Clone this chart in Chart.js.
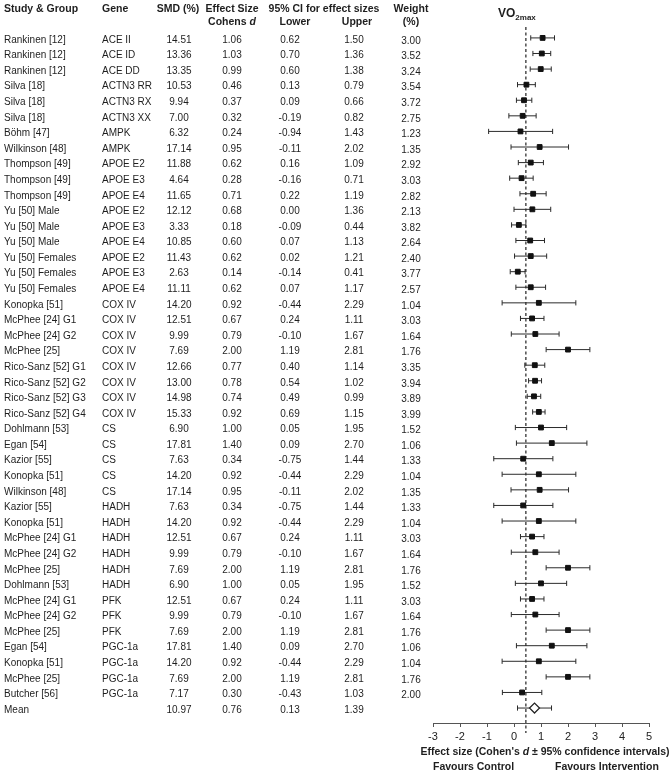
<!DOCTYPE html>
<html>
<head>
<meta charset="utf-8">
<script src="https://cdn.jsdelivr.net/npm/chart.js@4.4.0/dist/chart.umd.min.js"></script>
<style>
  body { margin: 0; background: #fff; }
  #wrap { width: 670px; height: 773px; }
</style>
</head>
<body>
<div id="wrap"><canvas id="myChart" width="670" height="773"></canvas></div>
<script>
// table rows, top to bottom
const studies = [
  'Rankinen [12]', 'Rankinen [12]', 'Rankinen [12]', 'Silva [18]', 'Silva [18]', 'Silva [18]',
  'Böhm [47]', 'Wilkinson [48]', 'Thompson [49]', 'Thompson [49]', 'Thompson [49]',
  'Yu [50] Male', 'Yu [50] Male', 'Yu [50] Male', 'Yu [50] Females', 'Yu [50] Females', 'Yu [50] Females',
  'Konopka [51]', 'McPhee [24] G1', 'McPhee [24] G2', 'McPhee [25]',
  'Rico-Sanz [52] G1', 'Rico-Sanz [52] G2', 'Rico-Sanz [52] G3', 'Rico-Sanz [52] G4',
  'Dohlmann [53]', 'Egan [54]', 'Kazior [55]', 'Konopka [51]', 'Wilkinson [48]',
  'Kazior [55]', 'Konopka [51]', 'McPhee [24] G1', 'McPhee [24] G2', 'McPhee [25]', 'Dohlmann [53]',
  'McPhee [24] G1', 'McPhee [24] G2', 'McPhee [25]',
  'Egan [54]', 'Konopka [51]', 'McPhee [25]', 'Butcher [56]'
];
const genes = [
  'ACE II', 'ACE ID', 'ACE DD', 'ACTN3 RR', 'ACTN3 RX', 'ACTN3 XX',
  'AMPK', 'AMPK', 'APOE E2', 'APOE E3', 'APOE E4',
  'APOE E2', 'APOE E3', 'APOE E4', 'APOE E2', 'APOE E3', 'APOE E4',
  'COX IV', 'COX IV', 'COX IV', 'COX IV', 'COX IV', 'COX IV', 'COX IV', 'COX IV',
  'CS', 'CS', 'CS', 'CS', 'CS',
  'HADH', 'HADH', 'HADH', 'HADH', 'HADH', 'HADH',
  'PFK', 'PFK', 'PFK',
  'PGC-1a', 'PGC-1a', 'PGC-1a', 'PGC-1a'
];
const smd = [
  14.51, 13.36, 13.35, 10.53, 9.94, 7.00, 6.32, 17.14, 11.88, 4.64, 11.65,
  12.12, 3.33, 10.85, 11.43, 2.63, 11.11, 14.20, 12.51, 9.99, 7.69,
  12.66, 13.00, 14.98, 15.33, 6.90, 17.81, 7.63, 14.20, 17.14,
  7.63, 14.20, 12.51, 9.99, 7.69, 6.90, 12.51, 9.99, 7.69,
  17.81, 14.20, 7.69, 7.17
];
const effectSize = [
  1.06, 1.03, 0.99, 0.46, 0.37, 0.32, 0.24, 0.95, 0.62, 0.28, 0.71,
  0.68, 0.18, 0.60, 0.62, 0.14, 0.62, 0.92, 0.67, 0.79, 2.00,
  0.77, 0.78, 0.74, 0.92, 1.00, 1.40, 0.34, 0.92, 0.95,
  0.34, 0.92, 0.67, 0.79, 2.00, 1.00, 0.67, 0.79, 2.00,
  1.40, 0.92, 2.00, 0.30
];
const lowerCI = [
  0.62, 0.70, 0.60, 0.13, 0.09, -0.19, -0.94, -0.11, 0.16, -0.16, 0.22,
  0.00, -0.09, 0.07, 0.02, -0.14, 0.07, -0.44, 0.24, -0.10, 1.19,
  0.40, 0.54, 0.49, 0.69, 0.05, 0.09, -0.75, -0.44, -0.11,
  -0.75, -0.44, 0.24, -0.10, 1.19, 0.05, 0.24, -0.10, 1.19,
  0.09, -0.44, 1.19, -0.43
];
const upperCI = [
  1.50, 1.36, 1.38, 0.79, 0.66, 0.82, 1.43, 2.02, 1.09, 0.71, 1.19,
  1.36, 0.44, 1.13, 1.21, 0.41, 1.17, 2.29, 1.11, 1.67, 2.81,
  1.14, 1.02, 0.99, 1.15, 1.95, 2.70, 1.44, 2.29, 2.02,
  1.44, 2.29, 1.11, 1.67, 2.81, 1.95, 1.11, 1.67, 2.81,
  2.70, 2.29, 2.81, 1.03
];
const weights = [
  3.00, 3.52, 3.24, 3.54, 3.72, 2.75, 1.23, 1.35, 2.92, 3.03, 2.82,
  2.13, 3.82, 2.64, 2.40, 3.77, 2.57, 1.04, 3.03, 1.64, 1.76,
  3.35, 3.94, 3.89, 3.99, 1.52, 1.06, 1.33, 1.04, 1.35,
  1.33, 1.04, 3.03, 1.64, 1.76, 1.52, 3.03, 1.64, 1.76,
  1.06, 1.04, 1.76, 2.00
];
// pooled row
const meanSmd = 10.97, meanD = 0.76, meanLower = 0.13, meanUpper = 1.39;
const xMin = -3, xMax = 5;
const refLine = 0.44;

const FONT = '"Liberation Sans", Arial, sans-serif';
const n = studies.length;
const meanIdx = n;

// whisker lines, one small dataset per row
const whiskers = effectSize.map((d, i) => ({
  type: 'scatter', showLine: true, order: 3,
  data: [{x: lowerCI[i], y: i}, {x: upperCI[i], y: i}],
  borderColor: '#2b2b2b', borderWidth: 1, pointRadius: 0
}));
whiskers.push({
  type: 'scatter', showLine: true, order: 3,
  data: [{x: meanLower, y: meanIdx}, {x: meanUpper, y: meanIdx}],
  borderColor: '#2b2b2b', borderWidth: 1, pointRadius: 0
});

const capPts = [];
lowerCI.forEach((v, i) => { capPts.push({x: v, y: i}); capPts.push({x: upperCI[i], y: i}); });
capPts.push({x: meanLower, y: meanIdx}, {x: meanUpper, y: meanIdx});

const data = {
  datasets: [
    {
      type: 'scatter', order: 0,
      data: effectSize.map((d, i) => ({x: d, y: i})),
      pointStyle: 'rect', pointRadius: 3.4, backgroundColor: '#111', borderColor: '#111', borderWidth: 1
    },
    {
      type: 'scatter', order: 0,
      data: [{x: meanD, y: meanIdx}],
      pointStyle: 'rectRot', pointRadius: 5, backgroundColor: '#fff', borderColor: '#222', borderWidth: 1.2
    },
    {
      type: 'scatter', order: 1,
      data: capPts,
      pointStyle: 'line', rotation: 90, pointRadius: 2.6, borderColor: '#2b2b2b', borderWidth: 1
    },
    ...whiskers
  ]
};

// text helper: pieces [{t, italic}] drawn in a row
function drawRich(ctx, parts, x, y, size, bold, align) {
  const w = parts.map(p => {
    ctx.font = (p.italic ? 'italic ' : '') + (bold ? 'bold ' : '') + size + 'px ' + FONT;
    return ctx.measureText(p.t).width;
  });
  const total = w.reduce((a, b) => a + b, 0);
  let cx = align === 'center' ? x - total / 2 : x;
  ctx.textAlign = 'left';
  parts.forEach((p, k) => {
    ctx.font = (p.italic ? 'italic ' : '') + (bold ? 'bold ' : '') + size + 'px ' + FONT;
    ctx.fillText(p.t, cx, y);
    cx += w[k];
  });
}

const tablePlugin = {
  id: 'table',
  beforeDatasetsDraw(chart) {
    const {ctx, chartArea} = chart;
    const xs = chart.scales.x;
    const px = xs.getPixelForValue(refLine);
    ctx.save();
    ctx.strokeStyle = '#222';
    ctx.lineWidth = 1.2;
    ctx.setLineDash([3, 2.5]);
    ctx.beginPath();
    ctx.moveTo(px, chartArea.top);
    ctx.lineTo(px, chartArea.bottom + 10);
    ctx.stroke();
    ctx.restore();
  },
  afterDraw(chart) {
    const {ctx} = chart;
    const ys = chart.scales.y;
    const xs = chart.scales.x;
    ctx.save();
    ctx.fillStyle = '#1e1e1e';
    ctx.textBaseline = 'middle';

    // header
    const hs = 10.5;
    ctx.font = 'bold ' + hs + 'px ' + FONT;
    ctx.textAlign = 'left';
    ctx.fillText('Study & Group', 4, 9);
    ctx.fillText('Gene', 102, 9);
    ctx.textAlign = 'center';
    ctx.fillText('SMD (%)', 178, 9);
    ctx.fillText('Effect Size', 232, 9);
    ctx.fillText('95% CI for effect sizes', 324, 9);
    ctx.fillText('Lower', 295, 22);
    ctx.fillText('Upper', 357, 22);
    ctx.fillText('Weight', 411, 9);
    ctx.fillText('(%)', 411, 22);
    drawRich(ctx, [{t: 'Cohens '}, {t: 'd', italic: true}], 232, 22, hs, true, 'center');

    // rows
    ctx.font = '10px ' + FONT;
    for (let i = 0; i <= n; i++) {
      const y = ys.getPixelForValue(i) + 2;
      const isMean = i === n;
      ctx.textAlign = 'left';
      ctx.fillText(isMean ? 'Mean' : studies[i], 4, y);
      if (!isMean) ctx.fillText(genes[i], 102, y);
      ctx.textAlign = 'center';
      ctx.fillText((isMean ? meanSmd : smd[i]).toFixed(2), 179, y);
      ctx.fillText((isMean ? meanD : effectSize[i]).toFixed(2), 232, y);
      ctx.fillText((isMean ? meanLower : lowerCI[i]).toFixed(2), 290, y);
      ctx.fillText((isMean ? meanUpper : upperCI[i]).toFixed(2), 354, y);
      if (!isMean) ctx.fillText(weights[i].toFixed(2), 411, y + 1);
    }

    // plot title VO2max
    ctx.textAlign = 'left';
    ctx.textBaseline = 'alphabetic';
    ctx.font = 'bold 12px ' + FONT;
    ctx.fillText('VO', 498, 17);
    const vw = ctx.measureText('VO').width;
    ctx.font = 'bold 8px ' + FONT;
    ctx.fillText('2max', 498 + vw, 20);

    // axis caption
    ctx.textBaseline = 'middle';
    const cx = (xs.left + xs.right) / 2 + 4;
    drawRich(ctx, [{t: 'Effect size (Cohen\'s '}, {t: 'd', italic: true}, {t: ' ± 95% confidence intervals)'}],
      cx, 752, 10.5, true, 'center');
    ctx.font = 'bold 10.5px ' + FONT;
    ctx.textAlign = 'left';
    ctx.fillText('Favours Control', 433, 767);
    ctx.fillText('Favours Intervention', 555, 767);
    ctx.restore();
  }
};

const config = {
  type: 'scatter',
  data,
  options: {
    responsive: false,
    animation: false,
    layout: { padding: { top: 27, left: 433, right: 21, bottom: 0 } },
    plugins: { legend: { display: false }, tooltip: { enabled: false } },
    scales: {
      x: {
        type: 'linear', min: xMin, max: xMax, position: 'bottom',
        ticks: { stepSize: 1, color: '#222', font: { family: FONT, size: 11 }, padding: 3 },
        grid: { drawOnChartArea: false, drawTicks: true, tickLength: 4, color: '#555' },
        border: { color: '#555', width: 1 },
        afterFit(s) { s.height = 50; }
      },
      y: {
        type: 'linear', reverse: true, min: -0.7, max: 43.96, display: false
      }
    }
  },
  plugins: [tablePlugin]
};

const myChart = new Chart(document.getElementById('myChart'), config);
</script>
</body>
</html>
